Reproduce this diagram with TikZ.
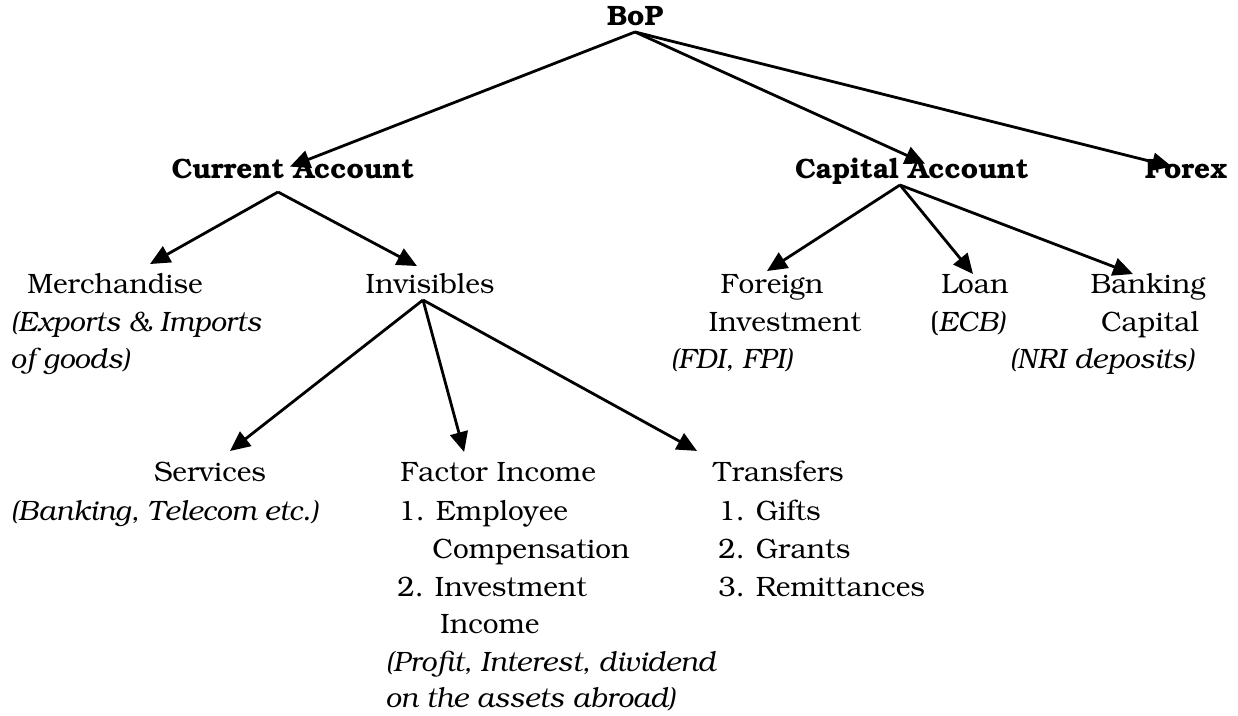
\documentclass[tikz,border=0pt]{standalone}
\usepackage[T1]{fontenc}
\usepackage{bookman}
\usetikzlibrary{arrows.meta,calc}
\tikzset{
  toplabel/.style ={font=\fontsize{14}{17}\selectfont\bfseries, anchor=base, inner sep=0pt},
  subhead/.style  ={font=\fontsize{14}{17}\selectfont, anchor=base, inner sep=0pt},
  subline/.style  ={font=\fontsize{14}{17}\selectfont, anchor=base west, inner sep=0pt},
  noteline/.style ={font=\fontsize{14}{17}\selectfont\itshape, anchor=base west, inner sep=0pt},
  branch/.style   ={-{Triangle[length=10pt,width=9pt]}, line width=1.4pt},
}
\begin{document}
\begin{tikzpicture}[x=0.5pt,y=-0.5pt]
    \useasboundingbox (0,0) rectangle (1238,716);
    % top levels
    \node[toplabel] (bop)   at (635,26)  {BoP};
    \node[toplabel] (cur)   at (293,179) {Current Account};
    \node[toplabel] (cap)   at (912,179) {Capital Account};
    \node[toplabel] (forex) at (1186,179) {Forex};
    % current account side
    \node[subhead]  (merch)  at (115,294) {Merchandise};
    \node[noteline] (merch2) at (10,332)  {(Exports \& Imports};
    \node[noteline] (merch3) at (10,369)  {of goods)};
    \node[subhead]  (inv)    at (430,294) {Invisibles};
    % capital account side
    \node[subhead]  (forn)   at (772,294)  {Foreign};
    \node[subhead]  (forn2)  at (785,332)  {Investment};
    \node[noteline] (forn3)  at (670,369)  {(FDI, FPI)};
    \node[subhead]  (loan)   at (975,294)  {Loan};
    \node[subhead]  (loan2)  at (968,332)  {(\textit{ECB)}};
    \node[subhead]  (bank)   at (1148,294) {Banking};
    \node[subhead]  (bank2)  at (1150,332) {Capital};
    \node[subhead,font=\fontsize{14}{17}\selectfont\itshape] (bank3) at (1102,369) {(NRI deposits)};
    % invisibles
    \node[subhead]  (serv)   at (210,482) {Services};
    \node[noteline] (serv2)  at (10,521)  {(Banking, Telecom etc.)};
    \node[subline]  (fac)    at (400,482) {Factor Income};
    \node[subline]  (fac1)   at (398,521) {1. Employee};
    \node[subline]  (fac2)   at (432,559) {Compensation};
    \node[subline]  (fac3)   at (397,597) {2. Investment};
    \node[subline]  (fac4)   at (440,634) {Income};
    \node[noteline] (fac5)   at (385,671) {(Profit, Interest, dividend};
    \node[noteline] (fac6)   at (385,707) {on the assets abroad)};
    \node[subline]  (tr)     at (713,482) {Transfers};
    \node[subline]  (tr1)    at (718,521) {1. Gifts};
    \node[subline]  (tr2)    at (718,559) {2. Grants};
    \node[subline]  (tr3)    at (718,597) {3. Remittances};
    % arrows
    \draw[branch] ($(bop.base)+(0,6)$) -- ($(cur.north)+(-3,8)$);
    \draw[branch] ($(bop.base)+(0,6)$) -- ($(cap.north)+(13,5)$);
    \draw[branch] ($(bop.base)+(0,6)$) -- ($(forex.north)+(-14,7)$);
    \draw[branch] ($(cur.base)+(-15,13)$) -- ($(merch.north)+(35,-10)$);
    \draw[branch] ($(cur.base)+(-15,13)$) -- ($(inv.north)+(-13,-8)$);
    \draw[branch] ($(inv.base)+(-7,6)$) -- ($(serv.north)+(20,-11)$);
    \draw[branch] ($(inv.base)+(-7,6)$) -- ($(fac.north)+(-34,-10)$);
    \draw[branch] ($(inv.base)+(-7,6)$) -- ($(tr.north west)+(-16,-10)$);
    \draw[branch] ($(cap.base)+(-12,6)$) -- ($(forn.north)+(-5,-3)$);
    \draw[branch] ($(cap.base)+(-12,6)$) -- ($(loan.north)+(-2,0)$);
    \draw[branch] ($(cap.base)+(-12,6)$) -- ($(bank.north)+(-15,0)$);
  \end{tikzpicture}
\end{document}
